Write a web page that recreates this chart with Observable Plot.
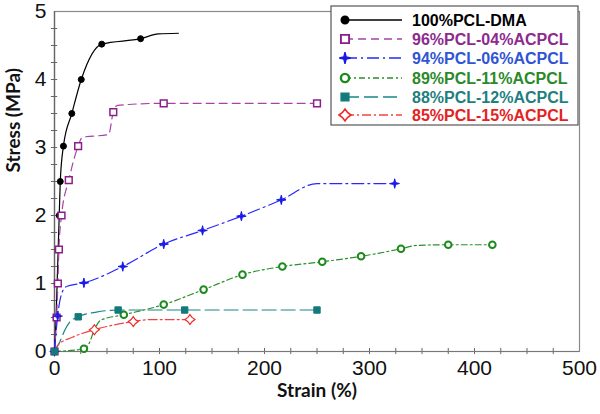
<!DOCTYPE html>
<html>
<head>
<meta charset="utf-8">
<script src="https://cdn.jsdelivr.net/npm/d3@7"></script>
<script src="https://cdn.jsdelivr.net/npm/@observablehq/plot@0.6"></script>
<style>
  html, body { margin: 0; padding: 0; background: #fff; }
  #chart { width: 600px; height: 414px; }
</style>
</head>
<body>
<div id="chart"></div>
<script>
// ---- data ----
const seriesNames = ["100%PCL-DMA", "96%PCL-04%ACPCL", "94%PCL-06%ACPCL", "89%PCL-11%ACPCL", "88%PCL-12%ACPCL", "85%PCL-15%ACPCL"];

const dmaStrain = [0, 1.5, 2.5, 3.5, 4.5, 5.5, 8.5, 16.5, 25.5, 45, 82, 99, 118];
const dmaStress = [0, 0.5, 1.0, 1.5, 2.0, 2.5, 3.02, 3.5, 4.0, 4.52, 4.6, 4.67, 4.68];
const dmaMark   = [0, 1, 1, 1, 1, 1, 1, 1, 1, 1, 1, 0, 0];

const ac04Strain = [0, 2, 3.2, 4.2, 6.7, 13.6, 22.5, 26.5, 51.5, 56, 60, 104, 250];
const ac04Stress = [0, 0.5, 1.0, 1.5, 2.0, 2.52, 3.02, 3.15, 3.19, 3.52, 3.62, 3.65, 3.65];
const ac04Mark   = [1, 1, 1, 1, 1, 1, 1, 0, 0, 1, 0, 1, 1];

const ac06Strain = [0, 3, 7, 12, 28, 65, 104, 141, 178, 216, 250, 324];
const ac06Stress = [0, 0.52, 0.86, 0.96, 1.01, 1.25, 1.58, 1.78, 1.99, 2.23, 2.47, 2.47];
const ac06Mark   = [1, 1, 0, 0, 1, 1, 1, 1, 1, 1, 0, 1];

const ac11Strain = [0, 28, 33, 38, 44, 66, 104, 142, 179, 217, 255, 292, 330, 345, 375, 417];
const ac11Stress = [0, 0.04, 0.12, 0.32, 0.46, 0.54, 0.69, 0.91, 1.13, 1.25, 1.32, 1.40, 1.51, 1.56, 1.57, 1.57];
const ac11Mark   = [0, 1, 0, 0, 0, 1, 1, 1, 1, 1, 1, 1, 1, 0, 1, 1];

const ac12Strain = [0, 5, 10, 15, 22.6, 40, 60.6, 124, 250];
const ac12Stress = [0, 0.14, 0.32, 0.44, 0.51, 0.58, 0.61, 0.61, 0.61];
const ac12Mark   = [1, 0, 0, 0, 1, 0, 1, 1, 1];

const ac15Strain = [0, 3, 17, 38, 75, 91, 129];
const ac15Stress = [0, 0.09, 0.21, 0.32, 0.44, 0.47, 0.47];
const ac15Mark   = [0, 0, 0, 1, 1, 0, 1];

const xTickLabels = [0, 100, 200, 300, 400, 500];
const yTickLabels = [0, 1, 2, 3, 4, 5];
const xMinorTicks = [25, 50, 75, 100, 125, 150, 175, 200, 225, 250, 275, 300, 325, 350, 375, 400, 425, 450, 475];
const yMinorTicks = [0.25, 0.5, 0.75, 1, 1.25, 1.5, 1.75, 2, 2.25, 2.5, 2.75, 3, 3.25, 3.5, 3.75, 4, 4.25, 4.5, 4.75];

// ---- styles ----
const lineColors = ["#000000", "#a444a4", "#2828ff", "#2a8f2a", "#1a8585", "#f04444"];
const markStroke = ["#000000", "#8a1f8a", "#1a1ae6", "#1d8a1d", "#127a7a", "#ee2a2a"];
const markFill   = ["#000000", "#ffffff", "#1a1ae6", "#ffffff", "#127a7a", "#ffffff"];
const textColors = ["#000000", "#8e2a8e", "#2f55d4", "#2a8a2a", "#1f7f7f", "#e52222"];
const dashes = ["none", "8,5", "12,4,2,4", "6,3,2,3", "14,5", "9,3,2,3"];

const star4 = (fat) => ({
  draw(ctx, size) {
    const r = Math.sqrt(size / Math.PI) * 1.25;
    const w = r * fat;
    ctx.moveTo(0, -r); ctx.lineTo(w, -w); ctx.lineTo(r, 0); ctx.lineTo(w, w);
    ctx.lineTo(0, r); ctx.lineTo(-w, w); ctx.lineTo(-r, 0); ctx.lineTo(-w, -w);
    ctx.closePath();
  }
});
const symbols = ["circle", "square", star4(0.2), "circle", "square", star4(0.42)];
const markR = [3, 3.8, 3.8, 3.3, 3.6, 4];
const markSW = [1, 1.5, 1, 2, 1, 1.2];

const sets = [
  [dmaStrain, dmaStress, dmaMark],
  [ac04Strain, ac04Stress, ac04Mark],
  [ac06Strain, ac06Stress, ac06Mark],
  [ac11Strain, ac11Stress, ac11Mark],
  [ac12Strain, ac12Stress, ac12Mark],
  [ac15Strain, ac15Stress, ac15Mark]
];
const rows = sets.map(([xs, ys, ms], i) =>
  xs.map((x, j) => ({series: seriesNames[i], strain: x, stress: ys[j], mark: ms[j]}))
);

const marks = [];
marks.push(Plot.ruleX(xMinorTicks, {x: d => d, y1: -0.045, y2: 0.045, stroke: "#666", strokeWidth: 1}));
marks.push(Plot.ruleY(yMinorTicks, {y: d => d, x1: -3, x2: 3, stroke: "#666", strokeWidth: 1}));
marks.push(Plot.frame({stroke: "#8a8a8a", strokeWidth: 1.2}));
marks.push(Plot.ruleX([0], {stroke: "#666", strokeWidth: 1.3}));
marks.push(Plot.ruleY([0], {stroke: "#777", strokeWidth: 1.2}));

rows.forEach((data, i) => {
  marks.push(Plot.line(data, {
    x: "strain", y: "stress", curve: "monotone-x",
    stroke: lineColors[i], strokeWidth: 1.2,
    strokeDasharray: dashes[i] === "none" ? null : dashes[i]
  }));
});
rows.forEach((data, i) => {
  marks.push(Plot.dot(data.filter(d => d.mark), {
    x: "strain", y: "stress", symbol: () => symbols[i], r: markR[i],
    fill: markFill[i], stroke: markStroke[i], strokeWidth: markSW[i]
  }));
});

marks.push(Plot.axisX(xTickLabels, {tickSize: 0, tickPadding: 9, fontSize: 21, label: null, tickFormat: d3.format("d")}));
marks.push(Plot.axisY(yTickLabels, {tickSize: 0, tickPadding: 8, fontSize: 21, label: null, tickFormat: d3.format("d")}));
marks.push(Plot.text(["Strain (%)"], {frameAnchor: "bottom", dy: 45, fontSize: 19, fontWeight: "bold", fontFamily: "Lato, 'Open Sans', sans-serif", fill: "#111"}));
marks.push(Plot.text(["Stress (MPa)"], {frameAnchor: "left", dx: -41, dy: -9, rotate: -90, fontSize: 19, fontWeight: "bold", fontFamily: "Lato, 'Open Sans', sans-serif", fill: "#111"}));

const chart = Plot.plot({
  width: 600,
  height: 414,
  marginTop: 11,
  marginRight: 21,
  marginBottom: 63,
  marginLeft: 54,
  style: {fontFamily: "'Liberation Sans', Arial, sans-serif", color: "#111", background: "#fff"},
  x: {domain: [0, 500]},
  y: {domain: [0, 5]},
  marks
});

// ---- legend inside the plot area ----
const svg = d3.select(chart);
const lg = svg.append("g");
const boxX = 331, boxY = 6, boxW = 247, boxH = 119;
lg.append("rect").attr("x", boxX).attr("y", boxY).attr("width", boxW).attr("height", boxH)
  .attr("fill", "#fff").attr("stroke", "#555").attr("stroke-width", 1.2);
const rowY = [20, 39, 58, 78, 97, 115];
seriesNames.forEach((name, i) => {
  const y = rowY[i];
  const l = lg.append("line").attr("x1", 345).attr("x2", 402).attr("y1", y).attr("y2", y)
    .attr("stroke", lineColors[i]).attr("stroke-width", i === 0 ? 1.6 : 1.3);
  if (dashes[i] !== "none") l.attr("stroke-dasharray", dashes[i]);
  const sym = typeof symbols[i] === "string"
    ? (symbols[i] === "circle" ? d3.symbolCircle : d3.symbolSquare)
    : symbols[i];
  const sz = Math.PI * Math.pow(markR[i] + 0.8, 2);
  lg.append("path").attr("d", d3.symbol(sym, sz)()).attr("transform", `translate(345,${y})`)
    .attr("fill", markFill[i]).attr("stroke", markStroke[i]).attr("stroke-width", markSW[i] + 0.4);
  lg.append("text").attr("x", 412).attr("y", y).attr("dy", "0.36em")
    .style("text-anchor", "start")
    .style("font-family", "'Liberation Sans', Arial, sans-serif").style("font-weight", "bold")
    .style("font-size", "16px").style("fill", textColors[i]).text(name);
});

document.getElementById("chart").appendChild(chart);
</script>
</body>
</html>
